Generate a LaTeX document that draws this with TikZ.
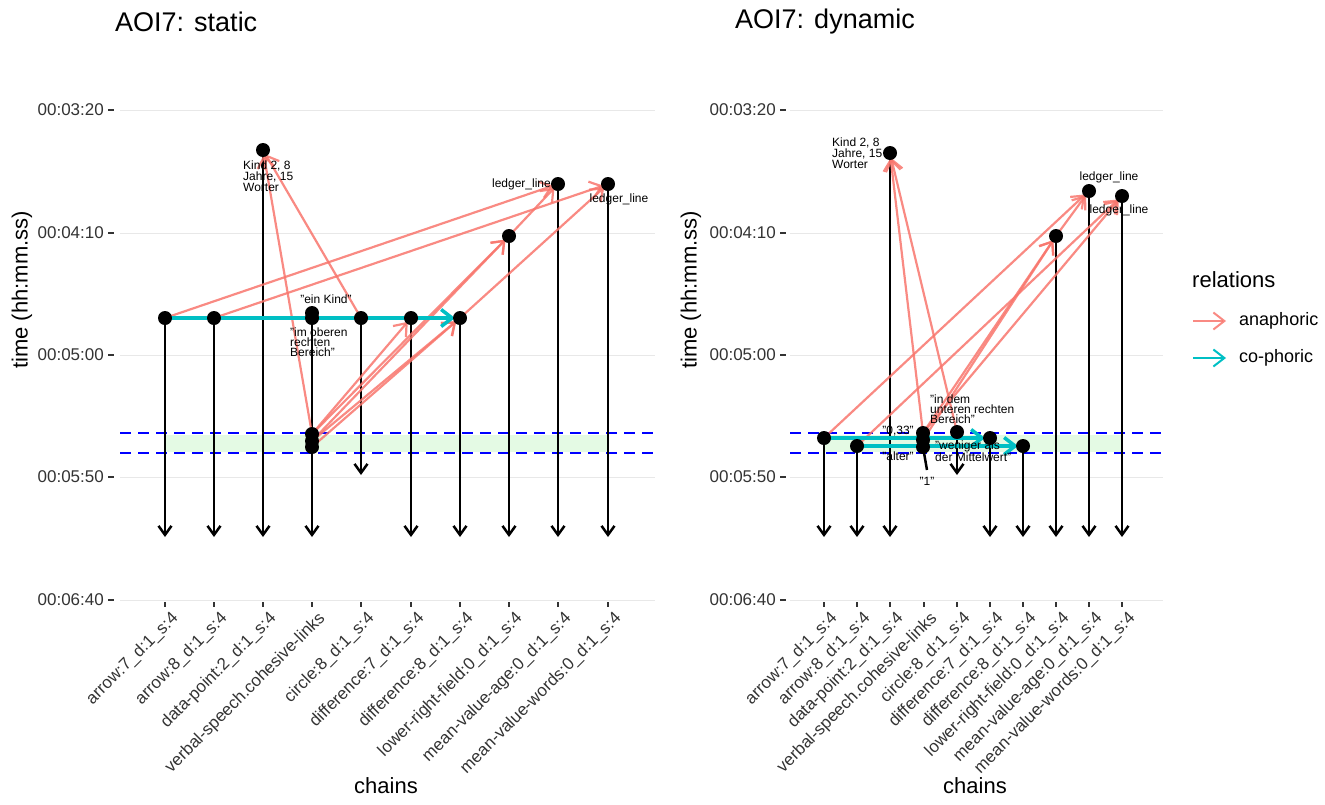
\documentclass[tikz,border=0pt]{standalone}
\usepackage{fontspec}
\setmainfont{Liberation Sans}
\usepackage{xcolor}
\usepackage{tikz}
\usetikzlibrary{arrows.meta, positioning}

\definecolor{anared}{HTML}{F8766D}
\definecolor{cocyan}{HTML}{00BFC4}
\definecolor{bandgreen}{RGB}{228,250,228}

\begin{document}
\begin{tikzpicture}[x=1pt, y=-1pt, >=Stealth,
        dot/.style={circle, fill=black, minimum size=14pt, inner sep=0pt},
        stem/.style={line width=2.5pt, -{Straight Barb[length=9pt, width=13pt]}},
        ana/.style={draw=anared, draw opacity=0.85, line width=2.2pt, shorten >=5pt, -{Straight Barb[length=11pt, width=17pt]}},
        cop/.style={draw=cocyan, line width=3.5pt, shorten >=5pt, -{Straight Barb[length=11pt, width=17pt]}},
        cutoff/.style={blue, line width=2.4pt, dash pattern=on 11pt off 7pt},
        gridline/.style={draw=black!9, line width=1pt},
        tickmark/.style={draw=black!80, line width=1.6pt},
        ticklab/.style={font=\fontsize{17}{17}\selectfont, text=black!80, inner sep=0pt},
        axtitle/.style={font=\fontsize{22}{22}\selectfont, inner sep=0pt},
        paneltitle/.style={font=\fontsize{27}{27}\selectfont, inner sep=0pt},
        lbl/.style={font=\fontsize{12}{8.5}\selectfont, align=left, inner sep=0pt}]

    \useasboundingbox (0,0) rectangle (1325,804);

    % titles and axis titles
    \node[paneltitle, anchor=west] (ltitle) at (115,22) {AOI7: static};
    \node[paneltitle, anchor=west] (rtitle) at (735,22) {AOI7: dynamic};
    \node[axtitle, rotate=90] (lytitle) at (22,290) {time (hh:mm.ss)};
    \node[axtitle, rotate=90] (rytitle) at (691,290) {time (hh:mm.ss)};
    \node[axtitle] (lxtitle) at (386,786) {chains};
    \node[axtitle] (rxtitle) at (975,786) {chains};

    % y axes
    \foreach \y/\lab in {110/00:03:20, 233/00:04:10, 355/00:05:00, 477/00:05:50, 600/00:06:40} {
        \draw[gridline] (120,\y) -- (655,\y);
        \draw[gridline] (790,\y) -- (1163,\y);
        \draw[tickmark] (108,\y) -- (114,\y);
        \draw[tickmark] (780,\y) -- (786,\y);
        \node[ticklab, anchor=east] (ly\y) at (104,\y) {\lab};
        \node[ticklab, anchor=east] (ry\y) at (776,\y) {\lab};
    }

    % x axes
    \foreach \x/\lab in {165/arrow:7\_d:1\_s:4, 214/arrow:8\_d:1\_s:4, 263/data-point:2\_d:1\_s:4,
            312/verbal-speech.cohesive-links, 361/circle:8\_d:1\_s:4, 411/difference:7\_d:1\_s:4,
            460/difference:8\_d:1\_s:4, 509/lower-right-field:0\_d:1\_s:4,
            558/mean-value-age:0\_d:1\_s:4, 608/mean-value-words:0\_d:1\_s:4} {
        \draw[tickmark] (\x,602) -- (\x,607);
        \node[ticklab, anchor=north east, rotate=45] (lx\x) at (\x+5,610) {\lab};
    }
    \foreach \x/\lab in {824/arrow:7\_d:1\_s:4, 857/arrow:8\_d:1\_s:4, 890/data-point:2\_d:1\_s:4,
            924/verbal-speech.cohesive-links, 957/circle:8\_d:1\_s:4, 990/difference:7\_d:1\_s:4,
            1023/difference:8\_d:1\_s:4, 1056/lower-right-field:0\_d:1\_s:4,
            1089/mean-value-age:0\_d:1\_s:4, 1122/mean-value-words:0\_d:1\_s:4} {
        \draw[tickmark] (\x,602) -- (\x,607);
        \node[ticklab, anchor=north east, rotate=45] (rx\x) at (\x+5,610) {\lab};
    }

    % AOI window
    \fill[bandgreen] (165,435) rectangle (608,452);
    \fill[bandgreen] (824,435) rectangle (1122,452);
    \draw[cutoff] (120,433) -- (655,433);
    \draw[cutoff] (120,453) -- (655,453);
    \draw[cutoff] (790,433) -- (1163,433);
    \draw[cutoff] (790,453) -- (1163,453);

    % mentions, static
    \coordinate (lbot) at (0,537);
    \coordinate (la7) at (165,318);
    \coordinate (la8) at (214,318);
    \coordinate (ldp) at (263,150);
    \coordinate (lvk1) at (312,313);
    \coordinate (lvk2) at (312,318);
    \coordinate (lvs1) at (312,434);
    \coordinate (lvs2) at (312,441);
    \coordinate (lvs3) at (312,447);
    \coordinate (lc8) at (361,318);
    \coordinate (lc8e) at (361,475);
    \coordinate (ld7) at (411,318);
    \coordinate (ld8) at (460,318);
    \coordinate (llrf) at (509,236);
    \coordinate (lmva) at (558,184);
    \coordinate (lmvw) at (608,184);

    % mentions, dynamic
    \coordinate (rbot) at (0,537);
    \coordinate (ra7) at (824,438);
    \coordinate (ra8) at (857,446);
    \coordinate (rdp) at (890,153);
    \coordinate (rvs1) at (923,433);
    \coordinate (rvs2) at (923,440);
    \coordinate (rvs3) at (923,447);
    \coordinate (rvse) at (927,470);
    \coordinate (rc8) at (957,432);
    \coordinate (rc8e) at (957,475);
    \coordinate (rd7) at (990,438);
    \coordinate (rd8) at (1023,446);
    \coordinate (rlrf) at (1056,236);
    \coordinate (rmva) at (1089,191);
    \coordinate (rmvw) at (1122,196);

    % chains
    \foreach \p in {la7, la8, ldp, lvk1, ld7, ld8, llrf, lmva, lmvw}
        \draw[stem] (\p) -- (\p |- lbot);
    \draw[stem] (lc8) -- (lc8e);
    \foreach \p in {ra7, ra8, rdp, rd7, rd8, rlrf, rmva, rmvw}
        \draw[stem] (\p) -- (\p |- rbot);
    \draw[stem] (rc8) -- (rc8e);
    \draw[line width=2.5pt] (rvs3) -- (rvse);

    % relations, static
    \draw[ana] (la7) -- (lmva);
    \draw[ana] (la8) -- (lmvw);
    \draw[ana] (lvs1) -- (ldp);
    \draw[ana] (lc8) -- (ldp);
    \draw[ana] (lvs1) -- (ld7);
    \draw[ana] (lvs2) -- (ld8);
    \draw[ana] (lvs3) -- (ld8);
    \draw[ana] (lvs1) -- (llrf);
    \draw[ana] (lvs2) -- (llrf);
    \draw[ana] (llrf) -- (lmva);
    \draw[ana] (ld8) -- (lmvw);
    \draw[cop] (la7) -- (ld8);

    % relations, dynamic
    \draw[ana] (ra7) -- (rmva);
    \draw[ana] (ra8) -- (rmvw);
    \draw[ana] (rvs1) -- (rdp);
    \draw[ana] (rc8) -- (rdp);
    \draw[ana] (rvs1) -- (rlrf);
    \draw[ana] (rvs2) -- (rlrf);
    \draw[ana] (rvs1) -- (rmvw);
    \draw[ana] (rlrf) -- (rmva);
    \draw[cop] (ra7) -- (rd7);
    \draw[cop] (ra8) -- (rd8);

    % points
    \foreach \p in {la7, la8, ldp, lvk1, lvk2, lvs1, lvs2, lvs3, lc8, ld7, ld8, llrf, lmva, lmvw,
            ra7, ra8, rdp, rvs1, rvs2, rvs3, rc8, rd7, rd8, rlrf, rmva, rmvw}
        \node[dot] (\p-pt) at (\p) {};

    % labels, static
    \node[lbl, anchor=west] (lkind) at (243,176) {Kind 2, 8\\Jahre, 15\\Worter};
    \node[lbl, anchor=east] (lledg1) at (551,184) {ledger\_line};
    \node[lbl] (lledg2) at (619,199) {ledger\_line};
    \node[lbl] (leink) at (326,299) {"ein Kind"};
    \node[lbl, anchor=west] (lober) at (290,342) {"im oberen\\rechten\\Bereich"};

    % labels, dynamic
    \node[lbl, anchor=west] (rkind) at (832,153) {Kind 2, 8\\Jahre, 15\\Worter};
    \node[lbl] (rledg1) at (1109,177) {ledger\_line};
    \node[lbl] (rledg2) at (1119,210) {ledger\_line};
    \node[lbl, anchor=west] (runter) at (930,409) {"in dem\\unteren rechten\\Bereich"};
    \node[lbl] (rnull) at (898,431) {"0,33"};
    \node[lbl] (ralter) at (898,456) {"alter"};
    \node[lbl, anchor=west] (rwenig) at (935,451) {"weniger als\\der Mittelwert"};
    \node[lbl] (reins) at (927,481) {"1"};

    % legend
    \node[axtitle, anchor=west] (legtitle) at (1192,280) {relations};
    \coordinate (kana1) at (1193,321);
    \coordinate (kana2) at (1231,321);
    \coordinate (kcop1) at (1193,358);
    \coordinate (kcop2) at (1231,358);
    \draw[ana, line width=2pt] (kana1) -- (kana2);
    \draw[cop, line width=2pt] (kcop1) -- (kcop2);
    \node[ticklab, anchor=west, text=black, font=\fontsize{18}{18}\selectfont] (kana) at (1239,321) {anaphoric};
    \node[ticklab, anchor=west, text=black, font=\fontsize{18}{18}\selectfont] (kcop) at (1239,358) {co-phoric};
\end{tikzpicture}
\end{document}
